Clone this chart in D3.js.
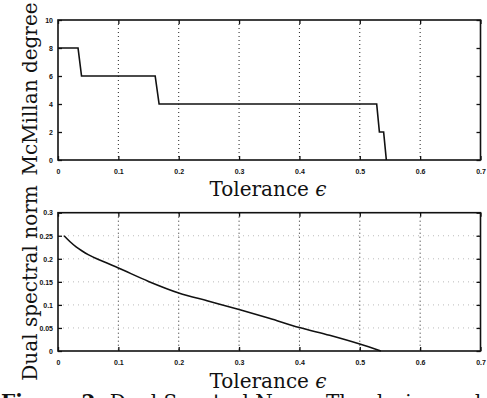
<!DOCTYPE html>
<html>
<head>
<meta charset="utf-8">
<script src="https://cdn.jsdelivr.net/npm/d3@7"></script>
<style>
  body { margin: 0; background: #fff; }
  svg { display: block; }
  .tick text { font-family: "Liberation Sans", Arial, sans-serif; font-weight: bold; font-size: 7px; }
  .lab { font-family: "DejaVu Serif", serif; font-size: 20px; fill: #111; }
</style>
</head>
<body>
<svg width="487" height="398"></svg>
<script>
// top panel: McMillan degree vs tolerance (step-like)
var degEps = [0, 0.0332, 0.039, 0.161, 0.1675, 0.528, 0.5325, 0.5395, 0.544];
var degVal = [8, 8, 6, 6, 4, 4, 2, 2, 0];
var degTicks = [0, 2, 4, 6, 8, 10];

// bottom panel: dual spectral norm vs tolerance
var normEps = [0.01, 0.02, 0.03, 0.04, 0.05, 0.075, 0.1, 0.15, 0.2, 0.25, 0.3, 0.35, 0.4, 0.45, 0.5, 0.535];
var normVal = [0.250, 0.237, 0.226, 0.217, 0.209, 0.194, 0.180, 0.151, 0.126, 0.108, 0.090, 0.071, 0.051, 0.034, 0.015, 0];
var normTicks = [0, 0.05, 0.1, 0.15, 0.2, 0.25, 0.3];

var epsTicks = [0, 0.1, 0.2, 0.3, 0.4, 0.5, 0.6, 0.7];

var svg = d3.select("svg");
svg.append("rect").attr("width", 487).attr("height", 398).attr("fill", "#fff");

var x = d3.scaleLinear().domain([0, 0.7]).range([58, 480.5]);

function panel(y, yTicks, yFmt, hGrid) {
  var g = svg.append("g");
  var x0 = x.range()[0], x1 = x.range()[1];
  var yb = y.range()[0], yt = y.range()[1];

  // dotted grid
  g.selectAll(".vg").data(epsTicks.slice(1, -1)).enter().append("line")
    .attr("x1", d => x(d)).attr("x2", d => x(d))
    .attr("y1", yt).attr("y2", yb)
    .attr("stroke", "#222").attr("stroke-width", 1)
    .attr("stroke-dasharray", "1,3");
  if (hGrid) {
    g.selectAll(".hg").data(yTicks.slice(1, -1)).enter().append("line")
      .attr("x1", x0).attr("x2", x1)
      .attr("y1", d => y(d)).attr("y2", d => y(d))
      .attr("stroke", "#aaa").attr("stroke-width", 0.8)
      .attr("stroke-dasharray", "1,4");
  }

  // axes with inward ticks on all four sides
  var bottom = d3.axisBottom(x).tickValues(epsTicks).tickSize(-4).tickPadding(9)
    .tickFormat(d => d === 0 ? "0" : d3.format(".1f")(d));
  g.append("g").attr("transform", "translate(0," + yb + ")").call(bottom);
  g.append("g").attr("transform", "translate(0," + yt + ")")
    .call(d3.axisTop(x).tickValues(epsTicks).tickSize(-4).tickFormat(""));
  g.append("g").attr("transform", "translate(" + x0 + ",0)")
    .call(d3.axisLeft(y).tickValues(yTicks).tickSize(-4).tickPadding(5).tickFormat(yFmt));
  g.append("g").attr("transform", "translate(" + x1 + ",0)")
    .call(d3.axisRight(y).tickValues(yTicks).tickSize(-4).tickFormat(""));
  g.selectAll(".domain").remove();
  g.selectAll(".tick line").attr("stroke", "#111").attr("stroke-width", 1.3);
  g.selectAll(".tick text").attr("fill", "#111");

  g.append("rect").attr("x", x0).attr("y", yt)
    .attr("width", x1 - x0).attr("height", yb - yt)
    .attr("fill", "none").attr("stroke", "#111").attr("stroke-width", 1.6);
  return g;
}

// top panel
var yDeg = d3.scaleLinear().domain([0, 10]).range([160, 20]);
var gTop = panel(yDeg, degTicks, d => d, false);
gTop.append("path")
  .datum(degEps.map((e, i) => [e, degVal[i]]))
  .attr("d", d3.line().x(d => x(d[0])).y(d => yDeg(d[1])))
  .attr("fill", "none").attr("stroke", "#111").attr("stroke-width", 1.6);

// bottom panel
var yNorm = d3.scaleLinear().domain([0, 0.3]).range([351, 212.7]);
var gBot = panel(yNorm, normTicks, d => d === 0 ? "0" : String(d), true);
gBot.append("path")
  .datum(normEps.map((e, i) => [e, normVal[i]]))
  .attr("d", d3.line().curve(d3.curveMonotoneX).x(d => x(d[0])).y(d => yNorm(d[1])))
  .attr("fill", "none").attr("stroke", "#111").attr("stroke-width", 1.6);

// axis labels
function xlab(yy) {
  var t = svg.append("text").attr("class", "lab").attr("x", 268).attr("y", yy)
    .attr("text-anchor", "middle");
  t.append("tspan").text("Tolerance ");
  t.append("tspan").attr("font-style", "italic").text("\u03f5");
}
xlab(196);
xlab(388);

svg.append("text").attr("class", "lab")
  .attr("transform", "translate(37,89) rotate(-90)")
  .attr("text-anchor", "middle").text("McMillan degree");
svg.append("text").attr("class", "lab")
  .attr("transform", "translate(37,283) rotate(-90)")
  .attr("text-anchor", "middle").text("Dual spectral norm");

// clipped caption at the very bottom
var cap = svg.append("text").attr("x", 1).attr("y", 409)
  .attr("font-family", "DejaVu Serif, serif").attr("font-size", 20).attr("fill", "#111");
cap.append("tspan").attr("font-weight", "bold").text("Figure 2: ");
cap.append("tspan").text("Dual Spectral Norm. The design and realization");
</script>
</body>
</html>
